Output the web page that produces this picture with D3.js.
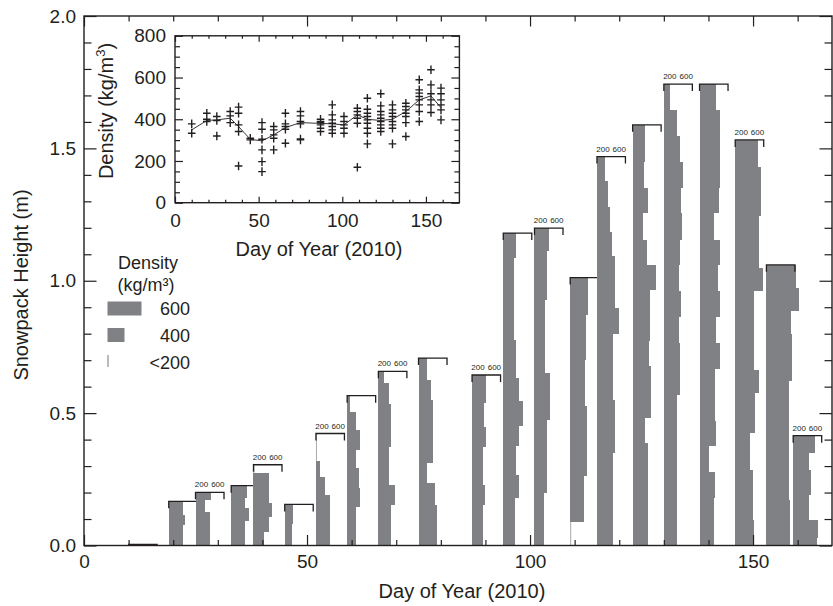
<!DOCTYPE html>
<html><head><meta charset="utf-8">
<script src="https://cdn.jsdelivr.net/npm/d3@7"></script>
<style>
body{margin:0;background:#fff;}
svg{display:block;font-family:"Liberation Sans",Arial,Helvetica,sans-serif;}
</style></head><body>
<svg id="chart" width="833" height="606"></svg>
<script>
// ---------------- data ----------------
const pitDays = [10,19,25,33,38,45,52,59,66,75,87,94,101,109,115,123,130,138,146,153,159];

// top height (m) of each layer in a pit, from the surface downwards
const layerTops = [
  [0.004],
  [0.167,0.114,0.077],
  [0.201,0.172,0.125],
  [0.226,0.178,0.14,0.091],
  [0.305,0.274,0.162,0.109,0.052],
  [0.155,0.08],
  [0.423,0.32,0.26,0.19],
  [0.566,0.505,0.436,0.36,0.291,0.216,0.146],
  [0.658,0.612,0.536,0.373,0.228,0.153],
  [0.708,0.624,0.549,0.311,0.236,0.154],
  [0.644,0.537,0.449,0.373,0.229,0.153],
  [1.18,1.086,0.777,0.633,0.545,0.45,0.375,0.268,0.18],
  [1.199,1.111,0.928,0.652,0.475,0.199],
  [1.012,0.872,0.702,0.526,0.262,0.088],
  [1.469,1.375,1.28,1.186,1.092,0.897,0.80,0.551,0.35],
  [1.589,1.45,1.35,1.255,1.155,1.06,0.966,0.771,0.677,0.482,0.388,0.192],
  [1.743,1.645,1.547,1.45,1.352,1.255,1.155,1.058,0.96,0.862,0.765,0.667,0.57,0.472,0.375,0.277,0.18,0.082],
  [1.743,1.645,1.547,1.45,1.352,1.255,1.155,1.058,0.96,0.862,0.765,0.667,0.57,0.472,0.375,0.277,0.18,0.082],
  [1.532,1.431,1.243,1.048,0.96,0.663,0.575,0.424,0.285,0.096],
  [1.06,0.972,0.884,0.797,0.62,0.17],
  [0.415,0.35,0.287,0.192,0.098,0.03]
];

// density (kg/m3) of each layer
const layerDensity = [
  [350],
  [396,429,396],
  [415,330,410],
  [420,396,448,396],
  [180,415,462,415,354],
  [315,305],
  [170,256,330,400],
  [238,331,387,331,364,387,331],
  [284,345,378,345,439,378],
  [317,378,400,317,434,457],
  [396,373,396,359,387,359],
  [378,354,378,424,471,424,378,424,368],
  [410,373,354,420,373,340],
  [450,420,405,430,400,170],
  [308,354,387,410,448,504,420,448,420],
  [373,360,410,340,400,527,443,434,457,378,410,420],
  [284,387,424,462,434,448,424,410,439,415,424,424,387,387,378,378,378,378],
  [434,490,490,490,471,410,490,457,481,434,481,424,424,434,331,424,400,400],
  [513,560,537,597,467,537,481,410,450,467],
  [621,653,540,560,518,525],
  [504,415,448,415,555,538]
];

// pits whose density bracket carries the "200 600" labels
const labelledPits = [25,38,52,66,87,101,115,130,146,159];
const bracketLabels = ["200","600"];

// inset: individual density samples per pit day, and the pit mean
const insetDensity = [
  [378,333],
  [429,400,389],
  [413,394,320],
  [437,416,384],
  [458,429,373,341,176],
  [309,301],
  [384,352,304,253,197,149],
  [365,349,325,309,253],
  [429,378,365,352,285],
  [437,416,389,378,301,305],
  [400,389,373,357,341,384],
  [469,421,397,381,365,349,333],
  [413,389,373,357,333],
  [453,437,421,405,381,170],
  [501,448,429,413,397,381,357,333,282],
  [522,464,437,421,405,389,373,357,341],
  [469,445,429,413,389,373,357,282],
  [477,461,445,429,413,384,317],
  [589,541,525,509,493,469,437,389],
  [637,565,522,493,469,432],
  [549,522,493,469,445,397]
];
const meanDensity = [349,394,397,405,365,304,296,325,360,384,380,378,373,421,400,394,400,437,493,512,455];

const mainXTicks = [0,50,100,150];
const mainYTicks = [0,0.5,1.0,1.5,2.0];
const insetXTicks = [0,50,100,150];
const insetYTicks = [0,200,400,600,800];
const legendDensity = [600,400,190];
const legendLabels = ["600","400","<200"];

// ---------------- drawing ----------------
const svg = d3.select("#chart");
const ink = "#231f20", barFill = "#808184", FS = 19, TS = 20;

const x = d3.scaleLinear().domain([0,167.7]).range([84,832]);
const y = d3.scaleLinear().domain([0,2]).range([545.5,16]);
const w = d3.scaleLinear().domain([200,600]).range([0,28.5]);

svg.append("clipPath").attr("id","plotclip").append("rect")
  .attr("x",x(0)).attr("y",y(2)).attr("width",x(167.7)-x(0)).attr("height",y(0)-y(2));

const plot = svg.append("g").attr("clip-path","url(#plotclip)");

pitDays.forEach((day,i)=>{
  const tops = layerTops[i], dens = layerDensity[i];
  const g = plot.append("g");
  tops.forEach((t,j)=>{
    const bottom = j+1 < tops.length ? tops[j+1] : 0;
    if (dens[j] <= 200) {
      g.append("line").attr("x1",x(day)+0.5).attr("x2",x(day)+0.5)
        .attr("y1",y(t)).attr("y2",y(bottom))
        .attr("stroke","#a7a9ac").attr("stroke-width",1);
    } else {
      g.append("rect").attr("x",x(day)).attr("y",y(t))
        .attr("width",w(dens[j])).attr("height",y(bottom)-y(t))
        .attr("fill",barFill).attr("shape-rendering","crispEdges");
    }
  });
  const bx0 = x(day), bx1 = x(day)+w(600), by = y(tops[0]);
  const tk = Math.min(7, y(0)-by);
  g.append("path").attr("d",`M${bx0},${by+tk}V${by}H${bx1}V${by+tk}`)
    .attr("fill","none").attr("stroke",ink).attr("stroke-width",1.3);
  if (labelledPits.includes(day)) {
    g.append("text").attr("x",bx0-0.7).attr("y",by-5).attr("font-size",8)
      .attr("fill",ink).text(bracketLabels[0]);
    g.append("text").attr("x",bx1+0.5).attr("y",by-5).attr("font-size",8)
      .attr("text-anchor","end").attr("fill",ink).text(bracketLabels[1]);
  }
});

function styleAxis(g){
  g.select(".domain").remove();
  g.selectAll(".tick line").attr("stroke",ink).attr("stroke-width",1.2);
  g.selectAll("text").attr("fill",ink).attr("font-size",FS).attr("font-family","Liberation Sans, Arial, sans-serif");
}

function drawAxes(xs, ys, xMajor, yMajor, xMinor, yMinor, lenMaj, lenMin, xPad, yPad, xfmt, yfmt, layer){
  const x0 = xs.range()[0], x1 = xs.range()[1], y0 = ys.range()[0], y1 = ys.range()[1];
  layer.append("g").attr("transform",`translate(0,${y0})`)
    .call(d3.axisBottom(xs).tickValues(xMinor).tickSize(-lenMin).tickFormat("")).call(styleAxis);
  layer.append("g").attr("transform",`translate(0,${y0})`)
    .call(d3.axisBottom(xs).tickValues(xMajor).tickSize(-lenMaj).tickPadding(xPad).tickFormat(xfmt)).call(styleAxis);
  layer.append("g").attr("transform",`translate(0,${y1})`)
    .call(d3.axisTop(xs).tickValues(xMinor).tickSize(-lenMin).tickFormat("")).call(styleAxis);
  layer.append("g").attr("transform",`translate(0,${y1})`)
    .call(d3.axisTop(xs).tickValues(xMajor).tickSize(-lenMaj).tickFormat("")).call(styleAxis);
  layer.append("g").attr("transform",`translate(${x0},0)`)
    .call(d3.axisLeft(ys).tickValues(yMinor).tickSize(-lenMin-2).tickFormat("")).call(styleAxis);
  layer.append("g").attr("transform",`translate(${x0},0)`)
    .call(d3.axisLeft(ys).tickValues(yMajor).tickSize(-lenMaj-2).tickPadding(yPad).tickFormat(yfmt)).call(styleAxis);
  layer.append("g").attr("transform",`translate(${x1},0)`)
    .call(d3.axisRight(ys).tickValues(yMinor).tickSize(-lenMin-2).tickFormat("")).call(styleAxis);
  layer.append("g").attr("transform",`translate(${x1},0)`)
    .call(d3.axisRight(ys).tickValues(yMajor).tickSize(-lenMaj-2).tickFormat("")).call(styleAxis);
  layer.append("rect").attr("x",x0).attr("y",y1).attr("width",x1-x0).attr("height",y0-y1)
    .attr("fill","none").attr("stroke",ink).attr("stroke-width",1.4);
}

// main axes
const mainLayer = svg.append("g");
drawAxes(x, y, mainXTicks, mainYTicks,
  d3.range(10,168,10).filter(d=>d%50!==0),
  d3.range(1,20).map(d=>d/10).filter(d=>Math.round(d*10)%5!==0),
  10.5, 5.5, 9.5, 8, d3.format("d"), d3.format(".1f"), mainLayer);

mainLayer.append("text").attr("x",462).attr("y",598).attr("text-anchor","middle")
  .attr("font-size",TS).attr("fill",ink).text("Day of Year (2010)");
mainLayer.append("text").attr("transform","translate(28,285) rotate(-90)").attr("text-anchor","middle")
  .attr("font-size",TS).attr("fill",ink).text("Snowpack Height (m)");

// legend
const leg = svg.append("g");
leg.append("text").attr("x",148).attr("y",269).attr("text-anchor","middle").attr("font-size",18).attr("fill",ink).text("Density");
leg.append("text").attr("x",146).attr("y",291).attr("text-anchor","middle").attr("font-size",18).attr("fill",ink).text("(kg/m³)");
const legY = [301.5, 328, 355];
const lw = d3.scaleLinear().domain([200,600]).range([0,34]);
legendDensity.forEach((d,i)=>{
  if (d > 200) {
    leg.append("rect").attr("x",107.5).attr("y",legY[i]).attr("width",lw(d)).attr("height",14).attr("fill",barFill);
  } else {
    leg.append("line").attr("x1",108).attr("x2",108).attr("y1",legY[i]).attr("y2",legY[i]+12)
      .attr("stroke","#939598").attr("stroke-width",1.3);
  }
  leg.append("text").attr("x",190).attr("y",legY[i]+13.5).attr("text-anchor","end")
    .attr("font-size",18).attr("fill",ink).text(legendLabels[i]);
});

// inset
const xi = d3.scaleLinear().domain([0,170]).range([175,459.4]);
const yi = d3.scaleLinear().domain([0,800]).range([202.7,35.8]);
const ins = svg.append("g");
ins.append("rect").attr("x",175).attr("y",35.8).attr("width",284.4).attr("height",166.9).attr("fill","#fff");

const meanLine = d3.line().x((d,i)=>xi(pitDays[i])).y(d=>yi(d));
ins.append("path").attr("d",meanLine(meanDensity)).attr("fill","none").attr("stroke",ink).attr("stroke-width",0.9);

const pts = [];
insetDensity.forEach((arr,i)=>arr.forEach(v=>pts.push([pitDays[i],v])));
ins.append("path").attr("d",pts.map(p=>{
    const px = xi(p[0]), py = yi(p[1]);
    return `M${px-3.8},${py}H${px+3.8}M${px},${py-4.3}V${py+4.3}`;
  }).join(""))
  .attr("fill","none").attr("stroke",ink).attr("stroke-width",1.4);

drawAxes(xi, yi, insetXTicks, insetYTicks,
  d3.range(10,170,10).filter(d=>d%50!==0),
  d3.range(50,800,50).filter(d=>d%200!==0),
  6, 3, 10.5, 9, d3.format("d"), d3.format("d"), ins);

ins.append("text").attr("x",319).attr("y",256).attr("text-anchor","middle")
  .attr("font-size",TS).attr("fill",ink).text("Day of Year (2010)");
const yt = ins.append("text").attr("transform","translate(113,111) rotate(-90)").attr("text-anchor","middle")
  .attr("font-size",TS).attr("fill",ink);
yt.append("tspan").text("Density (kg/m");
yt.append("tspan").attr("font-size",13).attr("dy",-8).text("3");
yt.append("tspan").attr("dy",8).text(")");
</script>
</body></html>
